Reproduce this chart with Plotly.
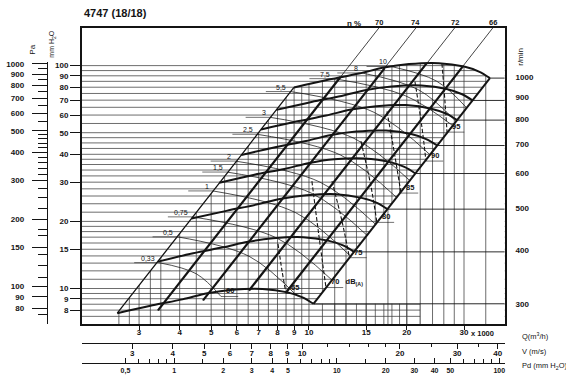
import math
import plotly.graph_objects as go

W, H = 566, 377
FONT = "Liberation Sans"
INK = "#141414"
GRID = "#3c3c3c"

TITLE = "4747 (18/18)"

# ---------------- data (Q in 1000 m3/h, p in mm H2O) ----------------
RPM = [1000, 900, 800, 700, 600, 500, 400, 300]
FAN_Q = [
    [8.99, 11.52, 14.25, 17.01, 20.31, 25.10, 30.00, 33.35, 36.05],
    [7.94, 10.18, 12.59, 15.03, 17.95, 22.18, 26.51, 29.47, 31.85],
    [7.12, 9.13, 11.29, 13.48, 16.10, 19.89, 23.78, 26.43, 28.57],
    [6.19, 7.93, 9.80, 11.70, 13.97, 17.27, 20.64, 22.94, 24.80],
    [5.30, 6.79, 8.40, 10.03, 11.97, 14.79, 17.68, 19.66, 21.25],
    [4.35, 5.57, 6.89, 8.22, 9.82, 12.13, 14.50, 16.12, 17.43],
    [3.43, 4.40, 5.44, 6.49, 7.75, 9.58, 11.45, 12.73, 13.76],
    [2.57, 3.30, 4.08, 4.87, 5.81, 7.19, 8.59, 9.55, 10.32],
]
FAN_P = [
    [79.8, 86.6, 92.1, 98.0, 101.6, 102.6, 99.0, 94.0, 87.9],
    [63.3, 68.7, 73.1, 77.8, 80.6, 81.4, 78.6, 74.6, 69.8],
    [51.7, 56.1, 59.7, 63.5, 65.8, 66.5, 64.1, 60.9, 56.95],
    [39.7, 43.1, 45.9, 48.8, 50.6, 51.1, 49.3, 46.8, 43.8],
    [29.8, 32.4, 34.4, 36.6, 38.0, 38.3, 37.0, 35.1, 32.8],
    [20.6, 22.3, 23.8, 25.3, 26.2, 26.5, 25.5, 24.3, 22.7],
    [13.2, 14.4, 15.3, 16.2, 16.8, 17.0, 16.4, 15.6, 14.6],
    [7.75, 8.41, 8.94, 9.52, 9.87, 9.96, 9.61, 9.13, 8.54],
]

P_GRID = [7.5, 8, 8.5, 9, 9.5, 10, 11, 12, 13, 14, 15, 16, 17, 18, 19, 20, 22, 24,
          26, 28, 30, 32, 34, 36, 38, 40, 42.5, 45, 47.5, 50, 55, 60, 65, 70, 75,
          80, 85, 90, 95, 100]
Q_GRID = [2.6, 2.8, 3, 3.25, 3.5, 4, 4.5, 5, 5.5, 6, 6.5, 7, 7.5, 8, 8.5, 9, 9.5,
          10, 11, 12, 13, 14, 15, 16, 17, 18, 19, 20, 22, 24, 26, 28, 30, 35]
Q_GRID_OUT = [12, 13, 15, 17.5, 20, 22, 24, 26, 28, 30, 35]

ETA_LABELS = ["70", "74", "72", "66"]
ETA_Q = [[3.43, 12.5, 16.42], [4.72, 17.1, 21.34], [6.54, 23.07, 28.08], [8.50, 29.8, 36.8]]
ETA_P = [[7.98, 88.9, 147.7], [8.84, 97.4, 147.7], [9.80, 102.8, 147.7], [9.60, 99.5, 147.7]]

POWER_LABELS = ["0,33", "0,5", "0,75", "1", "1,5", "2", "2,5", "3", "5,5", "7,5", "8", "10"]
POWER_Q = [
    [3.45, 4.50, 5.36], [3.93, 6.54, 9.19], [4.38, 7.93, 11.77], [5.06, 9.10, 13.47],
    [5.59, 10.16, 15.09], [5.93, 10.80, 16.03], [6.92, 12.53, 18.60], [7.60, 13.75, 20.43],
    [8.77, 15.87, 23.57], [11.94, 19.78, 27.70], [14.55, 21.71, 28.33], [17.90, 24.66, 30.56],
]
POWER_P = [
    [13.06, 11.64, 9.21], [17.06, 13.95, 9.26], [20.96, 16.89, 10.91], [27.4, 21.89, 13.9],
    [33.3, 26.8, 17.33], [37.3, 30.04, 19.41], [49.2, 39.65, 25.62], [58.6, 47.2, 30.5],
    [76.5, 61.7, 39.85], [87.4, 73.3, 53.8], [92.7, 77.98, 56.2], [99.1, 85.3, 64.67],
]

DB_LABELS = ["60", "65", "70", "75", "80", "85", "90", "95"]
DB_Q = [[5.36], [8.03, 8.26, 8.50], [10.21, 10.73, 11.28], [11.77, 12.63, 13.32],
        [14.45, 15.51, 16.18], [17.38, 18.39, 19.19], [21.19, 22.25, 22.91],
        [25.66, 26.21, 26.60]]
DB_P = [[9.21], [15.86, 12.03, 9.50], [30.3, 17.24, 10.1], [30.3, 20.1, 13.75],
        [45.8, 28.8, 19.8], [62.3, 39.2, 26.8], [84.8, 53.3, 37.3],
        [102.1, 69.1, 50.3]]

Q_TICKS = [3, 4, 5, 6, 7, 8, 9, 10, 15, 20, 30]
V_TICKS = [3, 4, 5, 6, 7, 8, 9, 10, 20, 30, 40]
V_MINOR = [12, 14, 16, 18, 25, 35]
PD_TICKS = [0.5, 1, 2, 3, 4, 5, 10, 20, 30, 40, 50, 100]
PD_TEXT = ["0,5", "1", "2", "3", "4", "5", "10", "20", "30", "40", "50", "100"]
PD_MINOR = [0.6, 0.7, 0.8, 0.9, 1.5, 6, 7, 8, 9, 15, 60, 70, 80, 90]
MM_TICKS = [8, 9, 10, 15, 20, 30, 40, 50, 60, 70, 80, 90, 100]
PA_TICKS = [80, 90, 100, 150, 200, 300, 400, 500, 600, 700, 800, 900, 1000]
PA_MINOR = [75, 110, 125, 140, 170, 180, 225, 250, 275, 320, 340, 360, 380,
            420, 440, 460, 480, 550, 650, 750, 850, 950]

# frame extents / conversions
Q_RANGE = (2.0, 40.0)
P_RANGE = (6.91, 147.7)
PA_TOP_MM = 104.2
V_PER_Q = 1.05
PD_PER_V2 = 1 / 16.35
PA_PER_MM = 9.81
RPM_RANGE = (268.9, 1303.0)

Q_LO, Q_HI, P_LO, P_HI = 1.9, 45.0, 5.0, 300.0
BOTTOM_GRID_END_Q = 22.0

lg = math.log10


def px(x):
    return x / W


def py(y):
    return (H - y) / H


fig = go.Figure()


def add_segments(segs, color=INK, width=1.0, dash=None, shape="linear"):
    xs, ys = [], []
    for sx, sy in segs:
        xs += list(sx) + [None]
        ys += list(sy) + [None]
    fig.add_trace(go.Scatter(x=xs, y=ys, mode="lines", hoverinfo="skip", showlegend=False,
                             line=dict(color=color, width=width, dash=dash, shape=shape)))


def add_mask(xs, ys):
    fig.add_trace(go.Scatter(x=xs, y=ys, mode="lines", fill="toself", fillcolor="white",
                             line=dict(width=0, color="white"), hoverinfo="skip",
                             showlegend=False))


lb_q = [c[0] for c in FAN_Q][::-1]
lb_p = [c[0] for c in FAN_P][::-1]
rb_q = [c[-1] for c in FAN_Q]
rb_p = [c[-1] for c in FAN_P]

# 1. vertical grid
add_segments([([q, q], [P_LO, P_HI]) for q in Q_GRID], color=GRID, width=0.75)
# 2. mask above the working field
add_mask([Q_LO, lb_q[0]] + lb_q + FAN_Q[0] + [Q_HI, Q_HI, Q_LO],
         [P_LO, P_LO] + lb_p + FAN_P[0] + [FAN_P[0][-1], P_HI, P_HI])
# 3. horizontal grid
add_segments([([Q_LO, Q_HI], [p, p]) for p in P_GRID], color=GRID, width=0.75)
# 4. mask right of the working field
fall_q = FAN_Q[0][5:]
fall_p = FAN_P[0][5:]
add_mask([rb_q[-1], rb_q[0]] + fall_q[::-1] + [fall_q[0], Q_HI, Q_HI],
         [rb_p[-1], rb_p[0]] + fall_p[::-1] + [P_HI, P_HI, rb_p[-1]])
add_mask([BOTTOM_GRID_END_Q, Q_HI, Q_HI, BOTTOM_GRID_END_Q],
         [P_LO, P_LO, rb_p[-1], rb_p[-1]])
# 5. sparse verticals outside the field
k_rb = math.log(rb_p[0] / rb_p[-1]) / math.log(rb_q[0] / rb_q[-1])
add_segments([([q, q], [P_LO, rb_p[-1] * (q / rb_q[-1]) ** k_rb]) for q in Q_GRID_OUT],
             color=GRID, width=0.75)
# 6. rpm lines to the right frame
add_segments([([q, Q_HI], [p, p]) for q, p in zip(rb_q, rb_p)], color=INK, width=0.9)
# 7. power curves (thin)
add_segments(list(zip(POWER_Q, POWER_P)), color=INK, width=0.75, shape="spline")
# power label leaders
add_segments([([c[0] * 0.84, c[0]], [pp[0], pp[0]]) for c, pp in zip(POWER_Q, POWER_P)],
             color=INK, width=0.6)
# 8. noise curves (dashed)
add_segments([(q, p) for q, p in zip(DB_Q, DB_P) if len(q) > 1], color=INK, width=1.1,
             dash="4px,2px", shape="spline")
add_segments([([q[-1], q[-1] * 1.13], [p[-1], p[-1]]) for q, p in zip(DB_Q, DB_P)],
             color=INK, width=0.6)
# 9. fan curves (thick)
add_segments(list(zip(FAN_Q, FAN_P)), color=INK, width=2.0, shape="spline")
# 10. field boundaries
add_segments([(lb_q, lb_p)], color=INK, width=1.3)
add_segments([(rb_q, rb_p)], color=INK, width=2.0)
# 11. efficiency / system lines
add_segments([([q[0], q[2]], [p[0], p[2]]) for q, p in zip(ETA_Q, ETA_P)], color=INK, width=0.8)
add_segments([([q[0], q[1]], [p[0], p[1]]) for q, p in zip(ETA_Q, ETA_P)], color=INK, width=2.2)

# dummy traces so the extra axes are drawn
for xa, ya in (("x2", "y"), ("x3", "y"), ("x", "y2"), ("x", "y3")):
    fig.add_trace(go.Scatter(x=[None], y=[None], xaxis=xa, yaxis=ya, mode="lines",
                             showlegend=False, hoverinfo="skip"))

tick_font = dict(family=FONT, size=8, color=INK, weight="bold")
x_dom = [px(82), px(505.5)]
y_dom = [py(324), py(26)]

fig.update_layout(
    width=W, height=H, margin=dict(l=0, r=0, t=0, b=0),
    paper_bgcolor="white", plot_bgcolor="rgba(0,0,0,0)", showlegend=False,
    xaxis=dict(type="log", range=[lg(Q_RANGE[0]), lg(Q_RANGE[1])], domain=x_dom, anchor="y",
               showline=True, mirror=True, linecolor=INK, linewidth=1.6, showgrid=False,
               zeroline=False, ticks="outside", ticklen=4, tickcolor=INK,
               ticklabelstandoff=-5,
               tickvals=Q_TICKS, ticktext=[str(v) for v in Q_TICKS], tickfont=tick_font),
    yaxis=dict(type="log", range=[lg(P_RANGE[0]), lg(P_RANGE[1])], domain=y_dom, anchor="x",
               showline=True, mirror=True, linecolor=INK, linewidth=1.8, showgrid=False,
               zeroline=False, ticks="outside", ticklen=10, tickcolor=INK,
               tickvals=MM_TICKS, ticktext=[str(v) for v in MM_TICKS], tickfont=tick_font),
    xaxis2=dict(type="log", overlaying="x", anchor="free", position=py(343), side="bottom",
                range=[lg(Q_RANGE[0] * V_PER_Q), lg(Q_RANGE[1] * V_PER_Q)],
                showline=True, linecolor=INK, linewidth=1.2, showgrid=False, zeroline=False,
                ticks="outside", ticklen=5, tickcolor=INK, tickvals=V_TICKS,
                ticktext=[str(v) for v in V_TICKS], tickfont=tick_font,
                ticklabelstandoff=-3,
                minor=dict(tickmode="array", tickvals=V_MINOR, ticks="outside", ticklen=3,
                           tickcolor=INK)),
    xaxis3=dict(type="log", overlaying="x", anchor="free", position=py(363), side="bottom",
                range=[lg((Q_RANGE[0] * V_PER_Q) ** 2 * PD_PER_V2),
                       lg((Q_RANGE[1] * V_PER_Q) ** 2 * PD_PER_V2)],
                showline=True, linecolor=INK, linewidth=1.2, showgrid=False, zeroline=False,
                ticks="inside", ticklen=5, tickcolor=INK, tickvals=PD_TICKS, ticktext=PD_TEXT,
                tickfont=dict(family=FONT, size=7, color=INK, weight="bold"),
                ticklabelstandoff=0,
                minor=dict(tickmode="array", tickvals=PD_MINOR, ticks="inside", ticklen=4,
                           tickcolor=INK)),
    yaxis2=dict(type="log", anchor="free", position=px(47), side="left",
                domain=[py(324), py(60)],
                range=[lg(P_RANGE[0] * PA_PER_MM), lg(PA_TOP_MM * PA_PER_MM)],
                showline=True, linecolor=INK, linewidth=1.3, showgrid=False, zeroline=False,
                ticks="outside", ticklen=15, tickcolor=INK, tickvals=PA_TICKS,
                ticktext=[str(v) for v in PA_TICKS], tickfont=tick_font, ticklabelstandoff=6,
                minor=dict(tickmode="array", tickvals=PA_MINOR, ticks="outside", ticklen=9,
                           tickcolor=INK)),
    yaxis3=dict(type="log", overlaying="y", anchor="x", side="right",
                range=[lg(RPM_RANGE[0]), lg(RPM_RANGE[1])], showline=False, showgrid=False,
                zeroline=False, ticks="", tickvals=RPM, ticktext=[str(v) for v in RPM],
                tickfont=tick_font, ticklabelstandoff=10),
)

ann = []
small = dict(family=FONT, size=7.5, color=INK, weight="bold")


def paper_text(x, y, text, size=8, angle=0, xanchor="left", yanchor="middle", bold=False):
    ann.append(dict(x=px(x), y=py(y), xref="paper", yref="paper", text=text, showarrow=False,
                    xanchor=xanchor, yanchor=yanchor, textangle=angle,
                    font=dict(family=FONT, size=size, color=INK,
                              weight="bold" if bold else "normal")))


paper_text(82, 11, TITLE, size=11, bold=True)
paper_text(33, 48, "Pa", size=8, angle=-90, xanchor="center")
paper_text(52, 42, "mm H<sub>2</sub>O", size=7, angle=-90, xanchor="center")
paper_text(522, 55, "r/min", size=8, angle=-90, xanchor="center")
paper_text(521, 336, "Q(m<sup>3</sup>/h)", size=7.5)
paper_text(521, 351, "V (m/s)", size=7.5)
paper_text(521, 366, "Pd (mm H<sub>2</sub>O)", size=7.5)
paper_text(346, 22, "η %", size=8, bold=True)

ann.append(dict(x=lg(Q_TICKS[-1]), y=py(327), xref="x", yref="paper", text="x 1000",
                showarrow=False, xanchor="left", yanchor="top", xshift=5, font=small))

for lab, q in zip(ETA_LABELS, ETA_Q):
    ann.append(dict(x=lg(q[2]), y=py(26), xref="x", yref="paper", text=lab, showarrow=False,
                    xanchor="center", yanchor="bottom", yshift=-1, font=small))

for lab, q, p in zip(POWER_LABELS, POWER_Q, POWER_P):
    ann.append(dict(x=lg(q[0] * 0.985), y=lg(p[0]), xref="x", yref="y", text=lab,
                    showarrow=False, xanchor="right", yanchor="bottom", yshift=-1,
                    font=dict(family=FONT, size=7, color=INK)))

for lab, q, p in zip(DB_LABELS, DB_Q, DB_P):
    txt = lab + "   dB<sub>(A)</sub>" if lab == "70" else lab
    ann.append(dict(x=lg(q[-1] * 1.02), y=lg(p[-1]), xref="x", yref="y", text=txt,
                    showarrow=False, xanchor="left", yanchor="bottom", yshift=-1,
                    font=small))

fig.update_layout(annotations=ann)
fig.write_html("out.html", config={"displayModeBar": False},
               post_script="document.body.style.margin='0px';")
